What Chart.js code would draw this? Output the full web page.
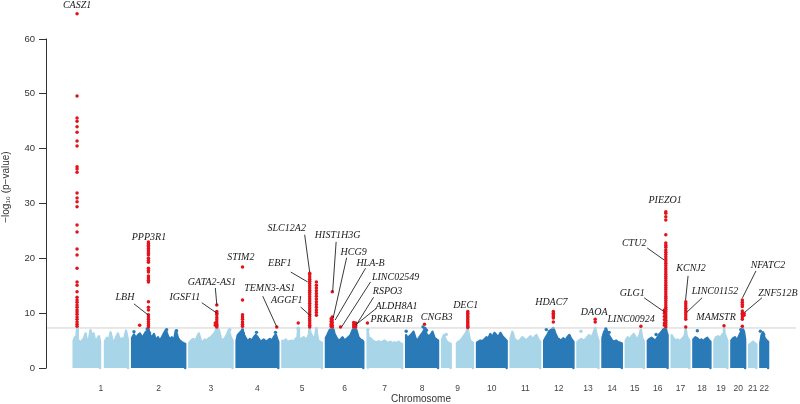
<!DOCTYPE html>
<html><head><meta charset="utf-8">
<script src="https://cdn.jsdelivr.net/npm/chart.js@4/dist/chart.umd.min.js"></script>
<style>html,body{margin:0;padding:0;background:#fff;}canvas{display:block;}</style>
</head><body>
<canvas id="c" width="800" height="404"></canvas>
<script>
// ---------- data ----------
const chromosomes = ['1','2','3','4','5','6','7','8','9','10','11','12','13','14','15','16','17','18','19','20','21','22'];
const chrStartMb = [0,0,0,0,0,0,0,0,0,0,0,0,19,19,20,0,0,0,0,0,15,16];
const chrEndMb = [249.3,243.2,198.0,191.2,180.9,171.1,159.1,146.4,141.2,135.5,135.0,133.9,115.2,107.3,102.5,90.4,81.2,78.1,59.1,63.0,48.1,51.3];
const GAP_MB = 18.3;
const threshold = 7.3;
const yTicks = [0,10,20,30,40,50,60];

// upper edge of the dense background cloud, [position Mb, -log10 p]; null = no SNPs
const env1 = [[0.5,5.0],[6.8,5.6],[12.5,5.4],[16,7.3],[19.5,5.2],[29.7,4.6],[38.8,5.0],[47.9,5.4],[54.8,6.3],[61.6,4.9],[70.8,5.3],[77.6,6.9],[84.5,5.6],[91.3,6.3],[98.2,5.0],[107.3,5.2],[116.4,5.8],[121,4.8],null,[144,4.9],[153,5.5],[162,5.0],[169,6.5],[178,5.0],[187,4.8],[194,5.6],[203,6.3],[212,5.0],[221,5.4],[230,5.0],[240,6.8],[249,5.0]];
const env2 = [[0.2,5.5],[8.7,6.1],[17.8,5.4],[26.9,6.0],[36,6.3],[45,5.5],[54.3,6.0],[63.5,6.6],[72.6,6.8],[74.9,7.3],[77.5,6.5],[81.7,6.1],[90.9,5.5],[100,6.2],[109,5.0],[118,5.6],[127.4,5.0],[136.5,5.6],[145.6,6.3],[154.8,6.9],[164,5.8],[173,5.2],[182,5.6],[191,4.8],[200,6.8],[209.6,5.5],[218.7,5.0],[227.8,4.7],[237,4.5],[243,4.4]];
const env3 = [[0.2,4.6],[7.3,4.9],[16.4,5.3],[25.6,5.0],[34.7,5.5],[43.8,6.3],[53,5.0],[62,4.7],[71,5.2],[80,5.0],[89.5,5.4],[98.6,5.6],[107.7,6.0],[116.9,6.4],[126,7.3],[135,7.0],[144,5.5],[153,5.0],[162.5,5.4],[171.7,6.0],[180.8,6.9],[190,5.6],[198,5.0]];
const env4 = [[0.2,5.0],[6,6.0],[15,6.4],[24.2,6.8],[27.4,7.3],[30.5,6.4],[33.3,6.1],[42.5,5.4],[51.6,4.8],[60.7,5.3],[69.9,5.0],[79,5.6],[88,6.0],[97,5.6],[106,5.0],[115.5,4.9],[124.7,5.2],[133.8,4.8],[143,5.0],[152,5.3],[161,5.0],[170.3,5.6],[179.4,6.1],[188.5,5.0],[191,4.8]];
const env5 = [[0.2,5.0],[6.4,4.8],[15.5,5.2],[24.7,4.7],[33.8,4.9],[43,5.0],[52,4.8],[61,5.3],[69,5.6],[72.6,7.3],[76,5.5],[79.5,5.0],[88.6,5.4],[97.7,5.6],[106.8,5.2],[116,5.5],[121.5,6.2],[125.1,7.3],[128.5,6.4],[134,6.0],[143,5.2],[150,5.8],[155.7,7.3],[159,6.0],[163.9,5.0],[173,4.8],[180.9,4.6]];
const env6 = [[0.2,5.5],[7.8,6.1],[16.9,6.9],[24.7,7.3],[29.2,7.3],[33,7.2],[39.7,6.2],[48.9,5.5],[58,5.0],[67,5.2],[76,5.6],[85.4,5.0],[94.5,5.3],[103.6,5.6],[112.8,6.0],[122,6.9],[127,7.3],[136,7.3],[140,6.8],[149,5.6],[158,5.2],[167,5.0],[171,4.8]];
const env7 = [[0.2,5.2],[2.7,6.8],[6,5.6],[15,5.4],[24,5.0],[33,4.8],[42.5,4.6],[51.6,4.9],[60.7,4.6],[70,4.8],[79,5.0],[88,4.7],[97,4.6],[106,4.8],[115.5,4.5],[124.7,4.7],[133.8,4.5],[143,4.8],[152,4.5],[159,4.4]];
const env8 = [[0.2,6.0],[6.4,5.4],[15.5,5.8],[24.7,6.1],[33.8,6.6],[43,5.4],[52,5.0],[61,5.6],[70,6.1],[79,6.6],[86.3,7.3],[93,6.2],[102,5.8],[111.4,6.0],[120.6,6.6],[129.7,5.5],[138.8,5.2],[146,5.0]];
const env9 = [[0.2,5.2],[8.7,6.0],[17.8,5.0],[27,4.6],[36,4.5],[39,4.4],null,[68,4.5],[75,4.8],[84,5.0],[93,5.5],[102,6.0],[111,6.5],[117.3,7.3],[122,6.0],[128,5.0],[134,4.8],[141,4.6]];
const env10 = [[0.2,4.6],[6.4,4.8],[15.5,5.0],[24.7,4.9],[33.8,5.2],[43,5.6],[52,5.4],[61,6.2],[70,5.6],[79.5,6.4],[88.6,6.0],[97.7,5.6],[107,6.4],[116,5.8],[125,5.4],[134,5.0],[135.5,4.8]];
const env11 = [[0.2,5.5],[8.2,6.6],[17.3,5.3],[26.5,5.0],[35.6,4.8],[44.7,5.2],[54,5.6],[63,5.3],[72,5.0],[81,5.4],[90.4,5.8],[99.5,5.3],[108.7,5.6],[117.8,6.0],[127,5.2],[135,4.8]];
const env12 = [[0.2,5.0],[7.8,5.6],[17,6.2],[26,6.8],[33,7.0],[42,7.3],[51,6.3],[60,5.5],[69.4,5.2],[78.5,5.0],[87.7,5.4],[96.8,5.0],[106,5.6],[115,6.0],[124,5.3],[133.9,4.8]];
const env13 = [[19,4.8],[27.2,5.0],[36.4,5.3],[45.5,5.0],[54.7,5.2],[63.8,5.6],[73,6.0],[82,5.5],[91,6.2],[100.3,7.3],[107,6.0],[115.2,5.0]];
const env14 = [[19,5.5],[26.8,6.6],[35.9,7.0],[45,6.2],[54,5.6],[63.4,5.0],[72.4,4.8],[81.6,5.0],[90.7,4.7],[99.8,4.6],[107.3,4.5]];
const env15 = [[20,5.0],[28.7,5.6],[37.8,5.2],[47,5.8],[56,6.2],[65,5.6],[74,5.2],[83,6.0],[89,7.0],[95,5.5],[102.5,4.8]];
const env16 = [[0.2,5.0],[8.2,5.3],[17.4,5.5],[26.5,5.2],[35.6,5.0],[44.7,5.6],[54,6.2],[63,6.6],[69.8,7.0],[76,7.2],[82.2,7.3],[86,6.6],[90.4,6.0]];
const env17 = [[0.2,6.0],[9,5.4],[18.3,5.0],[27.4,5.2],[36.5,4.9],[45.7,5.2],[54.8,5.6],[61,6.0],[64.8,7.3],[68.5,6.0],[73,5.5],[81.2,5.0]];
const env18 = [[0.2,5.2],[9,5.6],[18.3,5.4],[27.4,5.0],[36.5,5.2],[45.7,4.9],[54.8,5.3],[64,5.5],[73,5.0],[78.1,4.8]];
const env19 = [[0.2,5.0],[7.3,5.6],[16.4,5.8],[25.6,5.5],[34.7,6.0],[40.5,6.3],[43.8,7.3],[47,6.2],[53,5.6],[59.1,5.0]];
const env20 = [[0.2,5.0],[7.8,5.4],[17,5.6],[26,5.0],[35,5.8],[44.3,6.6],[50.2,7.3],[54,7.0],[58,6.6],[63,5.2]];
const env21 = [[15,4.2],[23.7,4.5],[32.8,4.8],[42,4.5],[48.1,4.3]];
const env22 = [[16,4.6],[21.5,6.0],[28.3,6.5],[35,5.5],[44.3,5.0],[51.3,4.8]];
const backgroundEdges = [env1,env2,env3,env4,env5,env6,env7,env8,env9,env10,env11,env12,env13,env14,env15,env16,env17,env18,env19,env20,env21,env22];

// isolated sub-threshold SNPs above the cloud: [chr, Mb, -log10 p]
const loneSnps = [['2',8.7,6.6],['2',69.4,7.1],['2',157.9,7.0],['2',203.6,6.8],['3',124.7,7.3],['3',185.4,7.0],
  ['4',91.3,6.5],['4',178,6.5],['5',71.7,7.2],['7',2.7,7.0],['8',0.5,6.7],['8',77.2,7.5],['8',86.3,7.2],['8',93,6.9],['8',30.6,6.1],
  ['9',18.7,6.1],['12',10,7.0],['12',23.7,6.6],['12',37.4,6.4],['12',115,5.8],['13',35,6.7],['14',34.5,7.1],['14',49.6,6.5],
  ['16',74.4,7.0],['16',37.9,6.1],['18',18.3,6.8],['20',42.9,7.0],['22',16,6.7],['22',31,6.1]];

// genome-wide significant SNPs: [chr, Mb, list of -log10 p]
const sigLoci = [
  ['1',16,[64.6,49.6,45.6,45.0,44.0,43.0,41.4,40.5,36.7,36.3,35.7,31.9,31.0,30.3,29.4,26.1,24.8,21.7,20.6,18.2,15.7,15.1,13.9,12.9,12.4,12.0,11.5,11.1,10.6,10.2,9.8,9.3,8.9,8.4,8.0,7.6]],
  ['2',74.9,[23.0,22.7,22.4,22.1,21.8,21.5,21.2,20.9,20.6,20.0,19.6,19.3,18.2,17.8,17.5,16.8,16.4,16.0,15.7,12.1,11.1,10.6,9.7,9.3,8.9,8.5,8.1,7.7,7.5]],
  ['2',34.7,[7.8]],
  ['3',126,[11.5,10.3,10.0,9.7,9.2,8.8,8.4,8.0,7.7,7.5]],
  ['3',119.2,[8.2,7.8]],
  ['4',27.4,[18.4,12.4,9.7,9.3,8.9,8.4,8.0,7.6]],
  ['4',184,[7.5]],
  ['5',72.6,[8.2]],
  ['5',125.1,[17.3,17.0,16.6,16.2,15.8,15.4,15.0,14.6,14.2,13.8,13.4,13.0,12.6,12.2,11.8,11.4,11.0,10.6,10.2,9.8,9.4,9.0,8.6,8.2,7.8,7.5]],
  ['5',155.7,[15.7,15.1,14.6,14.1,13.6,13.1,12.6,12.1,11.6,11.1,10.6,10.1,9.6]],
  ['6',29.2,[13.9,9.3,8.8,8.3,7.8,7.5]],
  ['6',24,[9.0,8.5,8.0,7.6]],
  ['6',67,[7.5]],
  ['6',127,[8.3,7.9,7.5]],
  ['6',136,[8.2,7.8,7.5]],
  ['7',0.5,[8.2]],
  ['8',84,[8.0]],
  ['9',117.3,[10.3,10.0,9.7,9.4,9.1,8.8,8.5,8.2,7.9,7.6,7.4]],
  ['12',42,[10.3,10.0,9.7,9.4,9.1,8.4]],
  ['13',100.3,[8.9,8.4]],
  ['15',89,[7.6]],
  ['16',82.2,[28.5,28.2,27.6,27.0,24.3,22.8,22.4,22.0,21.5,21.1,20.7,20.3,19.9,19.5,19.1,18.7,18.3,17.9,17.5,17.1,16.7,16.3,15.9,15.5,15.1,14.7,14.3,13.9,13.5,13.1,12.7,12.3,11.9,11.5,11.1,10.7,10.3,9.9,9.5,9.1,8.7,8.3,7.9,7.5]],
  ['16',75.8,[10.6,10.0,9.4,8.8,8.2,7.8]],
  ['17',64.8,[12.1,11.7,11.3,10.9,10.5,10.1,9.7,9.3,8.9,7.5]],
  ['19',43.8,[7.7]],
  ['20',50.2,[12.4,12.0,11.6,11.2,10.4,10.0,9.7,9.3,8.9,7.6]],
  ['20',58,[10.0,9.6]]
];

// gene annotations: [name, x (genome axis), y (-log10 p), leader line or null]
const geneLabels = [
  ['CASZ1',16,66.2,null],
  ['PPP3R1',344.7,23.9,null],
  ['LBH',235.2,12.8,[276.2,11.7,340.2,9.7]],
  ['IGSF11',509.1,12.9,[586.7,11.9,655.2,10.0]],
  ['GATA2-AS1',632.4,15.7,[648.4,14.6,655.2,11.5]],
  ['STIM2',764.8,20.1,null],
  ['TEMN3-AS1',897.2,14.6,[865.3,13.1,929.2,7.5]],
  ['AGGF1',974.9,12.4,[1038.8,11.1,1084.5,9.5]],
  ['EBF1',942.9,19.0,[993.1,17.5,1070.7,15.7]],
  ['SLC12A2',974.9,25.4,[1057,24.3,1079.8,17.5]],
  ['HIST1H3G',1207.7,24.1,[1200.9,23.0,1184.9,13.9]],
  ['HCG9',1280.8,21.0,[1248.9,20.1,1187.2,9.1]],
  ['HLA-B',1358.3,19.1,[1335.5,18.2,1196.3,8.75]],
  ['LINC02549',1472.5,16.6,[1358.3,15.7,1226,7.5]],
  ['RSPO3',1436,13.9,[1372,12.9,1292.2,7.8]],
  ['ALDH8A1',1477,11.3,[1385.8,10.9,1294.5,8.0]],
  ['PRKAR1B',1454.2,8.9,null],
  ['CNGB3',1660.7,9.3,null],
  ['DEC1',1793.1,11.5,null],
  ['HDAC7',2184.8,11.9,null],
  ['DAOA',2381.1,10.2,null],
  ['LINC00924',2550.1,8.9,null],
  ['GLG1',2554.7,13.7,[2609.5,12.8,2703.1,10.2]],
  ['CTU2',2563.8,22.8,[2623.2,21.9,2700.8,19.7]],
  ['PIEZO1',2705.4,30.5,null],
  ['KCNJ2',2824.1,18.1,[2810.4,16.8,2799,12.4]],
  ['LINC01152',2933.6,13.9,[2874.3,12.8,2805.8,10.2]],
  ['MAMSTR',2938.2,9.3,null],
  ['NFATC2',3175.6,18.8,[3120.8,17.7,3059.2,12.8]],
  ['ZNF512B',3221.2,13.7,[3148.2,12.8,3070.6,10.2]]
];

// ---------- build ----------
const LIGHT = '#a8d5e8', DARK = '#2a7ab8', RED = '#e3131c';
const offsets = [];
{ let acc = 0; for (let i = 0; i < chromosomes.length; i++) { offsets.push(acc); acc += (chrEndMb[i] - chrStartMb[i]) + GAP_MB; } }
const gx = (chr, pos) => { const i = chromosomes.indexOf(chr); return offsets[i] + pos - chrStartMb[i]; };
const centers = chromosomes.map((c, i) => offsets[i] + (chrEndMb[i] - chrStartMb[i]) / 2);
const colorOf = i => (i % 2 === 0 ? LIGHT : DARK);

const datasets = [];
backgroundEdges.forEach((edge, i) => {
  const blocks = [[]];
  edge.forEach(p => { if (p === null) blocks.push([]); else blocks[blocks.length - 1].push(p); });
  blocks.forEach(b => {
    const pts = [{x: gx(chromosomes[i], b[0][0]), y: 0}];
    b.forEach(p => pts.push({x: gx(chromosomes[i], p[0]), y: p[1]}));
    pts.push({x: gx(chromosomes[i], b[b.length - 1][0]), y: 0});
    datasets.push({type: 'line', data: pts, borderColor: colorOf(i), backgroundColor: colorOf(i), borderWidth: 2.4,
      borderJoinStyle: 'round', fill: 'origin', pointRadius: 0, tension: 0, order: 5, clip: false});
  });
});
datasets.push({type: 'line', data: [{x: -126, y: threshold}, {x: 3304, y: threshold}], borderColor: '#d0d0d0', borderWidth: 1,
  pointRadius: 0, fill: false, order: 4});
datasets.push({type: 'scatter', data: loneSnps.map(s => ({x: gx(s[0], s[1]), y: s[2]})),
  backgroundColor: loneSnps.map(s => colorOf(chromosomes.indexOf(s[0]))), borderWidth: 0, pointRadius: 1.7, order: 3});
const sigPts = [];
sigLoci.forEach(l => l[2].forEach(v => sigPts.push({x: gx(l[0], l[1]), y: v})));
datasets.push({type: 'scatter', data: sigPts, backgroundColor: RED, borderWidth: 0, pointRadius: 1.75, order: 1, clip: false});

const labelPlugin = {
  id: 'geneLabels',
  afterDatasetsDraw(chart) {
    const {ctx, scales: {x, y}} = chart;
    ctx.save();
    // y axis line spanning the tick range only (R style)
    const ax = Math.round(chart.chartArea.left) + 0.5;
    ctx.strokeStyle = '#333'; ctx.lineWidth = 1;
    ctx.beginPath();
    ctx.moveTo(ax, y.getPixelForValue(yTicks[0]) + 0.5);
    ctx.lineTo(ax, y.getPixelForValue(yTicks[yTicks.length - 1]) - 0.5);
    ctx.stroke();
    ctx.strokeStyle = '#222'; ctx.lineWidth = 0.9;
    ctx.font = 'italic 10px "Liberation Serif", "Times New Roman", serif';
    ctx.textAlign = 'center'; ctx.textBaseline = 'middle'; ctx.fillStyle = '#1a1a1a';
    geneLabels.forEach(g => {
      if (g[3]) {
        ctx.beginPath();
        ctx.moveTo(x.getPixelForValue(g[3][0]), y.getPixelForValue(g[3][1]));
        ctx.lineTo(x.getPixelForValue(g[3][2]), y.getPixelForValue(g[3][3]));
        ctx.stroke();
      }
      ctx.fillText(g[0], x.getPixelForValue(g[1]), y.getPixelForValue(g[2]));
    });
    ctx.restore();
  }
};

new Chart(document.getElementById('c'), {
  type: 'scatter',
  data: {datasets},
  plugins: [labelPlugin],
  options: {
    responsive: false, animation: false, devicePixelRatio: 1,
    layout: {padding: {left: 0, top: 6.1, right: 3, bottom: 0}},
    plugins: {legend: {display: false}, tooltip: {enabled: false}},
    scales: {
      x: {
        type: 'linear', min: -126, max: 3304,
        afterFit: s => { s.height = 36; },
        afterBuildTicks: s => { s.ticks = centers.map(v => ({value: v})); },
        grid: {display: false, drawTicks: false}, border: {display: false},
        ticks: {autoSkip: false, maxRotation: 0, padding: 16, color: '#444',
          font: {family: '"Liberation Sans", Arial, sans-serif', size: 8.5},
          callback: (v, i) => chromosomes[i]},
        title: {display: true, text: 'Chromosome', color: '#333', padding: 0,
          font: {family: '"Liberation Sans", Arial, sans-serif', size: 10, lineHeight: 1}}
      },
      y: {
        min: 0, max: 66,
        afterFit: s => { s.width = 46; },
        afterBuildTicks: s => { s.ticks = yTicks.map(v => ({value: v})); },
        grid: {display: true, drawOnChartArea: false, drawTicks: true, tickLength: 7, color: '#333', lineWidth: 1},
        border: {display: false},
        ticks: {padding: 4, color: '#333', font: {family: '"Liberation Sans", Arial, sans-serif', size: 9.5, lineHeight: 0.4}},
        title: {display: true, text: '\u2212log\u2081\u2080 (p\u2212value)', color: '#333', padding: {top: 1, bottom: 0},
          font: {family: '"Liberation Sans", Arial, sans-serif', size: 10, lineHeight: 1}}
      }
    }
  }
});
</script>
</body></html>
